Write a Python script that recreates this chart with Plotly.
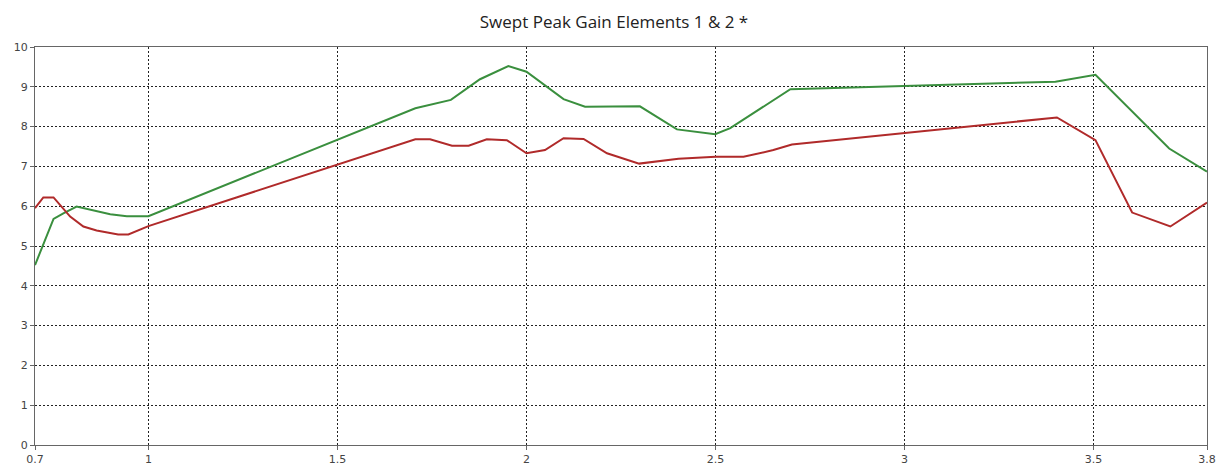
import plotly.graph_objects as go

green_x = [0.70, 0.749, 0.775, 0.81, 0.899, 0.943, 1.0, 1.706, 1.80, 1.877, 1.952, 2.0, 2.098, 2.155, 2.30, 2.398, 2.499, 2.539, 2.698, 3.0, 3.399, 3.505, 3.70, 3.80]
green_y = [4.52, 5.68, 5.82, 5.99, 5.80, 5.75, 5.75, 8.46, 8.67, 9.19, 9.52, 9.38, 8.69, 8.50, 8.51, 7.93, 7.81, 7.96, 8.94, 9.02, 9.13, 9.30, 7.45, 6.87]

red_x = [0.70, 0.722, 0.749, 0.793, 0.828, 0.863, 0.92, 0.947, 1.0, 1.706, 1.745, 1.803, 1.847, 1.895, 1.948, 2.0, 2.049, 2.098, 2.151, 2.213, 2.298, 2.402, 2.50, 2.574, 2.653, 2.702, 3.403, 3.505, 3.602, 3.703, 3.80]
red_y = [5.95, 6.22, 6.22, 5.74, 5.49, 5.39, 5.29, 5.29, 5.50, 7.68, 7.68, 7.52, 7.52, 7.68, 7.66, 7.33, 7.41, 7.71, 7.69, 7.33, 7.07, 7.19, 7.24, 7.24, 7.41, 7.55, 8.23, 7.66, 5.84, 5.49, 6.09]

x_ticks = [0.7, 1, 1.5, 2, 2.5, 3, 3.5, 3.8]
x_tick_labels = ["0.7", "1", "1.5", "2", "2.5", "3", "3.5", "3.8"]
y_ticks = list(range(0, 11))

title_text = "Swept Peak Gain Elements 1 &amp; 2 *"

fig = go.Figure()
fig.add_trace(go.Scatter(x=green_x, y=green_y, mode="lines",
                         line=dict(color="#3a8f3e", width=2), showlegend=False))
fig.add_trace(go.Scatter(x=red_x, y=red_y, mode="lines",
                         line=dict(color="#b02a2a", width=2), showlegend=False))

axis_common = dict(
    showgrid=True, gridcolor="#222", griddash="2px,2px", gridwidth=1,
    showline=True, linecolor="#666", linewidth=1, mirror=True,
    ticks="outside", ticklen=4, tickcolor="#666",
    zeroline=False,
    tickfont=dict(family="DejaVu Sans", size=11, color="#444"),
)

fig.update_layout(
    width=1219, height=463,
    margin=dict(l=27, r=20, t=39, b=26, autoexpand=False),
    paper_bgcolor="white", plot_bgcolor="white",
    title=dict(text=title_text, x=(614 - 8) / 1219, xanchor="center", xref="container",
               y=1 - 14 / 463, yanchor="middle", yref="container",
               font=dict(family="Open Sans", size=17, color="#222")),
    xaxis=dict(range=[0.7, 3.8], tickvals=x_ticks, ticktext=x_tick_labels, **axis_common),
    yaxis=dict(range=[0, 10], tickvals=y_ticks, **axis_common),
)

fig.write_html("out.html")
